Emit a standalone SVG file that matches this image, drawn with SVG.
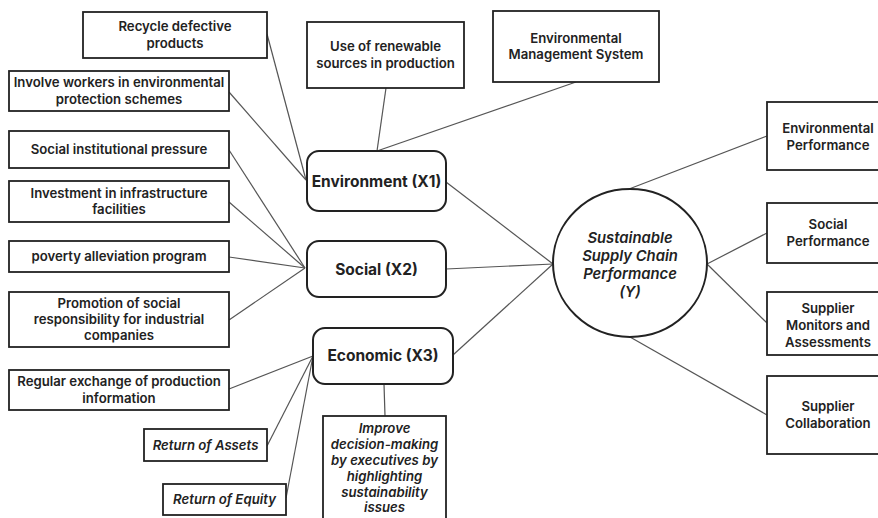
<svg xmlns="http://www.w3.org/2000/svg" width="878" height="518" viewBox="0 0 878 518">
<style>
.box{fill:#fff;stroke:#222;stroke-width:1.8}
.rbox{fill:#fff;stroke:#222;stroke-width:2}
.t{font-family:Inter,"Noto Sans","Liberation Sans",sans-serif;font-weight:600;font-size:13.2px;fill:#222;text-anchor:middle}
.i{font-style:italic}
.big{font-size:15.5px;font-weight:700}
.ci{font-size:14.8px;font-weight:600}
.con line{stroke:#555;stroke-width:1.2}
</style>
<rect width="878" height="518" fill="#fff"/>
<g class="con">
<line x1="267" y1="34" x2="306" y2="180"/>
<line x1="229" y1="92" x2="306" y2="180"/>
<line x1="229" y1="150" x2="305" y2="268"/>
<line x1="229" y1="202" x2="305" y2="268"/>
<line x1="229" y1="257" x2="305" y2="268"/>
<line x1="229" y1="320" x2="305" y2="268"/>
<line x1="229" y1="389" x2="313" y2="356"/>
<line x1="267" y1="446" x2="313" y2="356"/>
<line x1="286" y1="498" x2="313" y2="356"/>
<line x1="384" y1="384" x2="385" y2="416"/>
<line x1="386" y1="88" x2="377" y2="151"/>
<line x1="576" y1="82" x2="377" y2="151"/>
<line x1="446" y1="182" x2="553" y2="264"/>
<line x1="446" y1="269" x2="553" y2="264"/>
<line x1="453" y1="355" x2="553" y2="264"/>
<line x1="629" y1="189" x2="767" y2="136"/>
<line x1="707" y1="264" x2="767" y2="233"/>
<line x1="707" y1="264" x2="767" y2="323"/>
<line x1="630" y1="337" x2="767" y2="415"/>
</g>
<g id="recycle"><rect class="box" x="83" y="12" width="184" height="46"/><text class="t" x="175" y="31">Recycle defective</text><text class="t" x="175" y="48">products</text></g>
<g id="involve"><rect class="box" x="9" y="71" width="220" height="40"/><text class="t" x="119" y="87">Involve workers in environmental</text><text class="t" x="119" y="104">protection schemes</text></g>
<g id="institutional"><rect class="box" x="9" y="131" width="220" height="37"/><text class="t" x="119" y="154">Social institutional pressure</text></g>
<g id="investment"><rect class="box" x="9" y="181" width="220" height="41"/><text class="t" x="119" y="198">Investment in infrastructure</text><text class="t" x="119" y="214">facilities</text></g>
<g id="poverty"><rect class="box" x="9" y="241" width="220" height="31"/><text class="t" x="119" y="261">poverty alleviation program</text></g>
<g id="promotion"><rect class="box" x="9" y="292" width="220" height="55"/><text class="t" x="119" y="308">Promotion of social</text><text class="t" x="119" y="324">responsibility for industrial</text><text class="t" x="119" y="340">companies</text></g>
<g id="regular"><rect class="box" x="9" y="370" width="220" height="40"/><text class="t" x="119" y="386">Regular exchange of production</text><text class="t" x="119" y="403">information</text></g>
<g id="roa"><rect class="box" x="144" y="429" width="123" height="32"/><text class="t i" x="205.5" y="450">Return of Assets</text></g>
<g id="roe"><rect class="box" x="163" y="484" width="123" height="31"/><text class="t i" x="224.5" y="504">Return of Equity</text></g>
<g id="improve"><rect class="box" x="323" y="416" width="123" height="110"/><text class="t i" x="384.5" y="433">Improve</text><text class="t i" x="384.5" y="449">decision-making</text><text class="t i" x="384.5" y="465">by executives by</text><text class="t i" x="384.5" y="481">highlighting</text><text class="t i" x="384.5" y="497">sustainability</text><text class="t i" x="384.5" y="512">issues</text></g>
<g id="renewable"><rect class="box" x="307" y="22" width="157" height="66"/><text class="t" x="385.5" y="51">Use of renewable</text><text class="t" x="385.5" y="68">sources in production</text></g>
<g id="ems"><rect class="box" x="493" y="11" width="166" height="71"/><text class="t" x="576" y="43">Environmental</text><text class="t" x="576" y="59">Management System</text></g>
<g id="x1"><rect class="rbox" x="307" y="151" width="139" height="60" rx="12"/><text class="t big" x="376.5" y="187">Environment (X1)</text></g>
<g id="x2"><rect class="rbox" x="307" y="241" width="139" height="56" rx="12"/><text class="t big" x="376.5" y="275">Social (X2)</text></g>
<g id="x3"><rect class="rbox" x="313" y="328" width="140" height="56" rx="12"/><text class="t big" x="383" y="361">Economic (X3)</text></g>
<g id="y"><ellipse cx="630" cy="263" rx="77" ry="74" fill="#fff" stroke="#222" stroke-width="2"/><text class="t i ci" x="630" y="243">Sustainable</text><text class="t i ci" x="630" y="261">Supply Chain</text><text class="t i ci" x="630" y="279">Performance</text><text class="t i ci" x="630" y="297">(Y)</text></g>
<g id="envperf"><rect class="box" x="767" y="102" width="114" height="68"/><text class="t" x="828" y="133">Environmental</text><text class="t" x="828" y="150">Performance</text></g>
<g id="socperf"><rect class="box" x="767" y="203" width="114" height="60"/><text class="t" x="828" y="229">Social</text><text class="t" x="828" y="246">Performance</text></g>
<g id="monitors"><rect class="box" x="767" y="292" width="114" height="63"/><text class="t" x="828" y="313">Supplier</text><text class="t" x="828" y="330">Monitors and</text><text class="t" x="828" y="347">Assessments</text></g>
<g id="collab"><rect class="box" x="767" y="376" width="114" height="78"/><text class="t" x="828" y="411">Supplier</text><text class="t" x="828" y="428">Collaboration</text></g>
</svg>
